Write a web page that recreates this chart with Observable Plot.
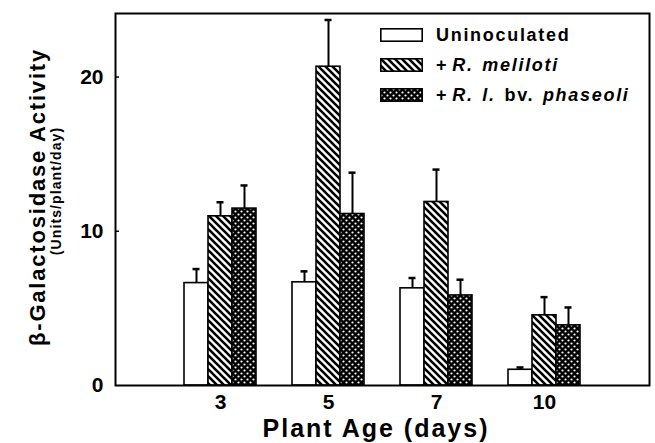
<!DOCTYPE html>
<html>
<head>
<meta charset="utf-8">
<script src="https://cdn.jsdelivr.net/npm/d3@7"></script>
<script src="https://cdn.jsdelivr.net/npm/@observablehq/plot@0.6"></script>
<style>
  html, body { margin: 0; padding: 0; background: #fff; }
  #wrap { position: relative; width: 655px; height: 443px; font-family: "Liberation Sans", Arial, sans-serif; }
  #legend { position: absolute; left: 380px; top: 20px; }
  .row { display: flex; align-items: center; height: 30px; }
  .row svg { width: 43px; height: 14px; margin-right: 13px; }
  .row span { font-size: 18px; font-weight: bold; letter-spacing: 1.7px; word-spacing: 2px; color: #000; white-space: nowrap; }
  .row span i.first { margin-left: 4px; }
</style>
</head>
<body>
<div id="wrap"></div>
<script>
// ---- data ----
const days = [3, 5, 7, 10];
const treatments = ["Uninoculated", "+R. meliloti", "+R. l. bv. phaseoli"];
const uninoculated    = [6.64, 6.69, 6.30, 1.02];
const uninoculatedErr = [0.91, 0.71, 0.67, 0.15];
const meliloti        = [10.97, 20.67, 11.90, 4.55];
const melilotiErr     = [0.91, 3.03, 2.10, 1.18];
const phaseoli        = [11.47, 11.12, 5.84, 3.90];
const phaseoliErr     = [1.50, 2.68, 1.02, 1.16];
const yTicks = [0, 10, 20];
const xTitle = "Plant Age (days)";
const yTitle = "β-Galactosidase Activity";
const ySubtitle = "(Units/plant/day)";

const fills = ["white", "url(#hatch)", "url(#dots)"];
const offsets = [-24, 0, 24];
const series = [
  days.map((d, i) => ({day: d, value: uninoculated[i], err: uninoculatedErr[i]})),
  days.map((d, i) => ({day: d, value: meliloti[i], err: melilotiErr[i]})),
  days.map((d, i) => ({day: d, value: phaseoli[i], err: phaseoliErr[i]}))
];

const W = 655, H = 443, mL = 115, mR = 6, mT = 13, mB = 58;

const marks = [];
series.forEach((data, k) => {
  marks.push(Plot.ruleX(data, {x: "day", y1: "value", y2: d => d.value + d.err, dx: offsets[k], stroke: "black", strokeWidth: 2}));
  marks.push(Plot.tickY(data, {x: "day", y: d => d.value + d.err, dx: offsets[k], insetLeft: 8.5, insetRight: 8.5, stroke: "black", strokeWidth: 2.5}));
});
series.forEach((data, k) => {
  marks.push(Plot.barY(data, {x: "day", y: "value", dx: offsets[k], fill: fills[k], stroke: "black", strokeWidth: 1.6}));
});
marks.push(Plot.ruleY(yTicks.slice(1), {insetRight: W - mL - mR - 4, stroke: "black", strokeWidth: 1.5}));
marks.push(Plot.frame({stroke: "black", strokeWidth: 2}));

const chart = Plot.plot({
  width: W, height: H,
  marginLeft: mL, marginRight: mR, marginTop: mT, marginBottom: mB,
  style: {fontFamily: "Liberation Sans, Arial, sans-serif", background: "white", color: "black"},
  x: {type: "band", domain: days, paddingInner: 0.778, paddingOuter: 0.861, label: null},
  y: {domain: [0, 24.12], ticks: yTicks, label: null},
  marks: [
    Plot.axisX({tickSize: 0, tickPadding: 9, fontSize: 21, fontWeight: "bold", label: null}),
    Plot.axisY({ticks: yTicks, tickSize: 0, tickPadding: 12, fontSize: 21, fontWeight: "bold", label: null}),
    ...marks
  ]
});

// patterns
const svg = d3.select(chart);
const defs = svg.insert("defs", ":first-child");
function addPatterns(defs, suffix) {
  const h = defs.append("pattern").attr("id", "hatch" + suffix).attr("patternUnits", "userSpaceOnUse").attr("width", 7).attr("height", 7);
  h.append("rect").attr("width", 7).attr("height", 7).attr("fill", "white");
  h.append("path").attr("d", "M-1,-1 L8,8 M-1,6 L1,8 M6,-1 L8,1").attr("stroke", "black").attr("stroke-width", 2.6);
  const p = defs.append("pattern").attr("id", "dots" + suffix).attr("patternUnits", "userSpaceOnUse").attr("width", 6).attr("height", 6);
  p.append("rect").attr("width", 6).attr("height", 6).attr("fill", "black");
  p.append("circle").attr("cx", 1.5).attr("cy", 1.5).attr("r", 1.1).attr("fill", "white");
  p.append("circle").attr("cx", 4.5).attr("cy", 4.5).attr("r", 1.1).attr("fill", "white");
}
addPatterns(defs, "");

// axis titles
const titles = svg.append("g").attr("font-family", "Liberation Sans, Arial, sans-serif").attr("font-weight", "bold").attr("fill", "black").attr("text-anchor", "middle");
titles.append("text").attr("transform", "translate(45,197) rotate(-90)").attr("font-size", 22).attr("letter-spacing", 1.8).text(yTitle);
titles.append("text").attr("transform", "translate(61,191) rotate(-90)").attr("font-size", 14).attr("letter-spacing", 1.1).text(ySubtitle);
titles.append("text").attr("x", 376).attr("y", 437).attr("font-size", 25).attr("letter-spacing", 2).text(xTitle);

const wrap = document.getElementById("wrap");
wrap.appendChild(chart);

// legend
const legend = document.createElement("div");
legend.id = "legend";
const labelsHTML = [
  "Uninoculated",
  "+<i class=\"first\">R. meliloti</i>",
  "+<i class=\"first\">R. l.</i> bv. <i>phaseoli</i>"
];
treatments.forEach((name, k) => {
  const row = document.createElement("div");
  row.className = "row";
  const s = d3.create("svg").attr("viewBox", "0 0 43 14");
  if (k === 0) addPatterns(s.append("defs"), "L");
  s.append("rect").attr("x", 0.8).attr("y", 0.8).attr("width", 41.4).attr("height", 12.4)
    .attr("fill", k === 0 ? "white" : (k === 1 ? "url(#hatchL)" : "url(#dotsL)"))
    .attr("stroke", "black").attr("stroke-width", 1.6);
  row.appendChild(s.node());
  const span = document.createElement("span");
  span.innerHTML = labelsHTML[k];
  row.appendChild(span);
  legend.appendChild(row);
});
wrap.appendChild(legend);
</script>
</body>
</html>
